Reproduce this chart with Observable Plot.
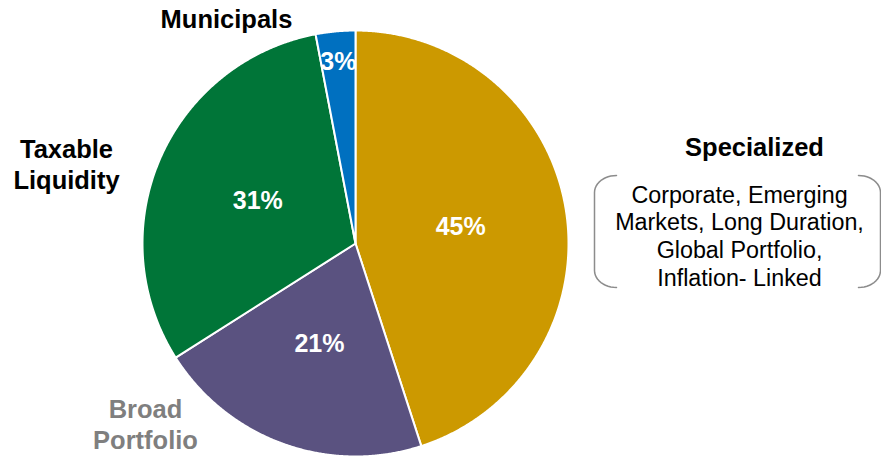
<!DOCTYPE html>
<html>
<head>
<meta charset="utf-8">
<script src="https://cdn.jsdelivr.net/npm/d3@7"></script>
<script src="https://cdn.jsdelivr.net/npm/@observablehq/plot@0.6"></script>
<style>
  html, body { margin: 0; padding: 0; background: #fff; }
  #chart svg { display: block; }
</style>
</head>
<body>
<div id="chart"></div>
<script>
// ---- data ----
const categories = ["Specialized", "Broad Portfolio", "Taxable Liquidity", "Municipals"];
const shares = [45, 21, 31, 3];
const sliceColors = ["#CC9900", "#5A5280", "#007538", "#0070C0"];
const specializedItems = ["Corporate, Emerging", "Markets, Long Duration,", "Global Portfolio,", "Inflation- Linked"];

// ---- layout ----
const W = 881, H = 456;
const cx = 355, cy = 243, R = 213;

const pie = d3.pie().sort(null).value(d => d.value);
const arcs = pie(categories.map((name, i) => ({name, value: shares[i]})));

// slice outlines from pie angles (0 = 12 o'clock, clockwise)
const slicePts = [];
for (const a of arcs) {
  const steps = Math.max(4, Math.ceil((a.endAngle - a.startAngle) / 0.005));
  slicePts.push({name: a.data.name, x: cx, y: cy});
  for (let k = 0; k <= steps; k++) {
    const t = a.startAngle + (a.endAngle - a.startAngle) * k / steps;
    slicePts.push({name: a.data.name, x: cx + R * Math.sin(t), y: cy - R * Math.cos(t)});
  }
  slicePts.push({name: a.data.name, x: cx, y: cy});
}

const pctLabels = arcs.map(a => {
  const mid = (a.startAngle + a.endAngle) / 2;
  const rr = a.data.value < 5 ? 0.855 : 0.5;
  return {text: a.data.value + "%", x: cx + R * rr * Math.sin(mid), y: cy - R * rr * Math.cos(mid)};
});

const catLayout = {
  "Municipals": {x: 226, y: 27, fill: "#000"},
  "Taxable Liquidity": {x: 66, y: 188, fill: "#000", text: "Taxable\nLiquidity"},
  "Broad Portfolio": {x: 145, y: 448, fill: "#7F7F7F", text: "Broad\nPortfolio"},
  "Specialized": {x: 754, y: 155, fill: "#000"}
};
const catLabels = categories.map(c => ({text: catLayout[c].text || c, ...catLayout[c]}));

// bracket geometry around specialized items
const bx0 = 594, bx1 = 880, by0 = 175, by1 = 287, brx = 22, bry = 17;
function bracketSide(side) {
  const pts = [];
  const xEdge = side < 0 ? bx0 : bx1;
  const dir = side < 0 ? 1 : -1;
  for (let k = 0; k <= 12; k++) {
    const t = Math.PI / 2 * k / 12;
    pts.push({side, x: xEdge + dir * brx * (1 - Math.sin(t)), y: by0 + bry * (1 - Math.cos(t))});
  }
  for (let k = 0; k <= 12; k++) {
    const t = Math.PI / 2 * k / 12;
    pts.push({side, x: xEdge + dir * brx * (1 - Math.cos(t)), y: by1 - bry + bry * Math.sin(t)});
  }
  return pts;
}
const bracketPts = [...bracketSide(-1), ...bracketSide(1)];

const itemLines = specializedItems.map((t, i) => ({text: t, x: 739, y: 202 + i * 27.8}));

const font = "'Liberation Sans', Arial, Helvetica, sans-serif";

const plot = Plot.plot({
  width: W,
  height: H,
  margin: 0,
  x: {domain: [0, W], range: [0, W], axis: null},
  y: {domain: [0, H], range: [0, H], axis: null},
  color: {domain: categories, range: sliceColors},
  style: {fontFamily: font, background: "#fff", overflow: "visible"},
  marks: [
    Plot.line(slicePts, {x: "x", y: "y", z: "name", fill: "name", stroke: "#fff", strokeWidth: 2, strokeLinejoin: "round", curve: "linear"}),
    Plot.text(pctLabels, {x: "x", y: "y", text: "text", fill: "#fff", fontSize: 25, fontWeight: "bold", lineAnchor: "middle"}),
    Plot.text(catLabels, {x: "x", y: "y", text: "text", fill: d => d.fill, fontSize: 25.5, fontWeight: "bold", lineAnchor: "bottom", lineHeight: 1.18}),
    Plot.line(bracketPts, {x: "x", y: "y", z: "side", stroke: "#8C8C8C", strokeWidth: 1.5, curve: "linear"}),
    Plot.text(itemLines, {x: "x", y: "y", text: "text", fill: "#000", fontSize: 23.3, lineAnchor: "bottom"})
  ]
});
document.getElementById("chart").appendChild(plot);
</script>
</body>
</html>
